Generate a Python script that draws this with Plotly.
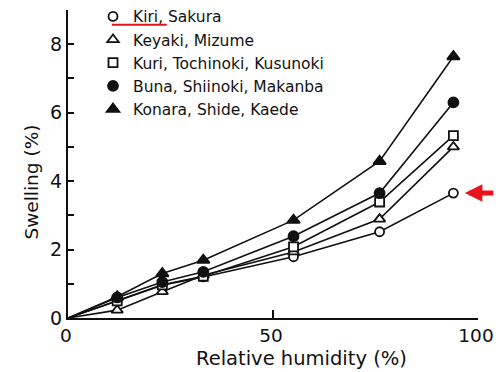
import plotly.graph_objects as go

humidity = [0, 12, 23, 33, 55, 76, 94]
series_names = ["Kiri, Sakura", "Keyaki, Mizume", "Kuri, Tochinoki, Kusunoki",
                "Buna, Shiinoki, Makanba", "Konara, Shide, Kaede"]
kiri = [0, 0.50, 0.96, 1.20, 1.79, 2.52, 3.65]
keyaki = [0, 0.23, 0.77, 1.25, 1.93, 2.89, 5.00]
kuri = [0, 0.50, 0.97, 1.22, 2.08, 3.39, 5.33]
buna = [0, 0.60, 1.05, 1.35, 2.39, 3.65, 6.30]
konara = [0, 0.62, 1.30, 1.69, 2.86, 4.58, 7.64]
y_ticks = [0, 1, 2, 3, 4, 5, 6, 7, 8, 9]
y_ticklabels = ["0", "", "2", "", "4", "", "6", "", "8", ""]
x_ticks = [0, 50, 100]
x_ticklabels = ["0", "50", "100"]

symbols = ["circle-open", "triangle-up-open", "square-open", "circle", "triangle-up"]
sizes = [9, 10, 9, 10, 11]
all_series = [kiri, keyaki, kuri, buna, konara]

FONT = "DejaVu Sans"
INK = "#111111"

fig = go.Figure()
for name, vals, sym, sz in zip(series_names, all_series, symbols, sizes):
    fig.add_trace(go.Scatter(
        x=humidity, y=vals, mode="lines", showlegend=False,
        line=dict(color=INK, width=1.6), hoverinfo="skip"))
    is_open = sym.endswith("-open")
    fig.add_trace(go.Scatter(
        x=humidity[1:], y=vals[1:], mode="markers", name=name, showlegend=True,
        marker=dict(symbol=sym.replace("-open", ""), size=sz,
                    color="white" if is_open else INK,
                    line=dict(color=INK, width=1.8))))

fig.update_layout(
    width=501, height=372,
    margin=dict(l=68, r=23, t=10, b=54, autoexpand=False),
    paper_bgcolor="white", plot_bgcolor="white",
    font=dict(family=FONT, color=INK, size=18),
    xaxis=dict(range=[0, 100], tickvals=x_ticks, ticktext=x_ticklabels,
               ticks="inside", ticklen=8, tickwidth=1.5, tickcolor=INK,
               showline=True, linecolor=INK, linewidth=2, showgrid=False,
               zeroline=False, automargin=False, ticklabelshift=-2,
               tickfont=dict(size=18.5, family=FONT)),
    yaxis=dict(range=[0, 9], tickvals=y_ticks, ticktext=y_ticklabels,
               ticks="inside", ticklen=6, tickwidth=1.5, tickcolor=INK,
               showline=True, linecolor=INK, linewidth=2, showgrid=False,
               zeroline=False, automargin=False,
               tickfont=dict(size=19, family=FONT)),
    legend=dict(x=0.061, y=1.033, xanchor="left", yanchor="top",
                font=dict(size=15.5, family=FONT, color=INK),
                bgcolor="rgba(0,0,0,0)", itemwidth=30, tracegroupgap=0),
    showlegend=True,
)

fig.add_annotation(text="Relative humidity (%)", xref="paper", yref="paper",
                   x=0.57, y=-0.088, xanchor="center", yanchor="top",
                   showarrow=False, font=dict(size=19.5, family=FONT, color=INK))
fig.add_annotation(text="Swelling (%)", xref="paper", yref="paper",
                   x=-0.09, y=0.44, xanchor="center", yanchor="middle",
                   textangle=-90, showarrow=False,
                   font=dict(size=18.5, family=FONT, color=INK))

# red underline under "Kiri,"
fig.add_shape(type="line", xref="x", yref="y", x0=10.7, x1=24.1, y0=8.57, y1=8.57,
              line=dict(color="#e8141c", width=2))
# red arrow pointing at the Kiri endpoint
fig.add_annotation(x=96.8, y=3.65, xref="x", yref="y", ax=30, ay=0,
                   showarrow=True, arrowhead=2, arrowsize=0.7, arrowwidth=5,
                   arrowcolor="#e8141c", text="")

fig.write_html(
    "out.html",
    config={"displayModeBar": False},
    post_script="document.body.style.margin='0';document.body.style.overflow='hidden';",
)
